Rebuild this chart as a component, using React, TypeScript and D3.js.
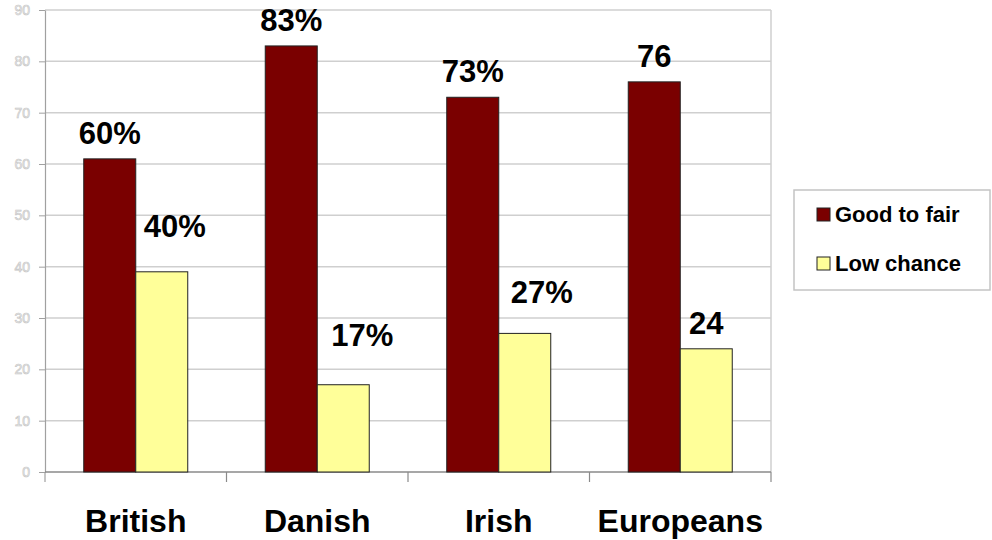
import { useEffect, useRef } from "react";
import * as d3 from "d3";

const categories = ["British", "Danish", "Irish", "Europeans"];
const goodToFair = [61, 83, 73, 76];
const lowChance = [39, 17, 27, 24];
const goodLabels = ["60%", "83%", "73%", "76"];
const lowLabels = ["40%", "17%", "27%", "24"];
const yTicks = [0, 10, 20, 30, 40, 50, 60, 70, 80, 90];
const seriesNames = ["Good to fair", "Low chance"];
const seriesColors = ["#7a0000", "#ffff99"];

// hand-placed label nudges for the low-chance labels (dx, extra lift in px)
const lowNudge: Array<[number, number]> = [
  [13, 20],
  [19, 24],
  [17, 15],
  [0, 0],
];

export default function App() {
  const ref = useRef<SVGSVGElement>(null);

  useEffect(() => {
    document.body.style.margin = "0";
    if (!ref.current) return;
    const svg = d3.select(ref.current);
    svg.selectAll("*").remove();

    const width = 992;
    const height = 540;
    const margin = { top: 10, right: 221, bottom: 68, left: 45 };
    const font = "Arial, 'Liberation Sans', Helvetica, sans-serif";

    const pad = 0.427;
    const x0 = d3
      .scaleBand()
      .domain(categories)
      .range([margin.left, width - margin.right])
      .paddingInner(pad)
      .paddingOuter(pad / 2);
    const x1 = d3
      .scaleBand()
      .domain(seriesNames)
      .range([0, x0.bandwidth()]);
    const y = d3
      .scaleLinear()
      .domain([0, 90])
      .range([height - margin.bottom, margin.top]);

    svg.append("rect").attr("width", width).attr("height", height).attr("fill", "#fff");

    // gridlines
    svg
      .append("g")
      .selectAll("line")
      .data(yTicks.filter((t) => t > 0))
      .join("line")
      .attr("x1", margin.left)
      .attr("x2", width - margin.right)
      .attr("y1", (d) => y(d))
      .attr("y2", (d) => y(d))
      .attr("stroke", "#cfcfcf")
      .attr("stroke-width", 1.5);

    // right border of plot
    svg
      .append("line")
      .attr("x1", width - margin.right)
      .attr("x2", width - margin.right)
      .attr("y1", y(90))
      .attr("y2", y(0))
      .attr("stroke", "#cfcfcf")
      .attr("stroke-width", 1.5);

    // y axis
    const yAxis = svg
      .append("g")
      .attr("transform", `translate(${margin.left},0)`)
      .call(d3.axisLeft(y).tickValues(yTicks).tickSize(6).tickSizeOuter(0));
    yAxis.select(".domain").attr("stroke", "#a0a0a0").attr("stroke-width", 1.2);
    yAxis.selectAll(".tick line").attr("stroke", "#a0a0a0");
    yAxis
      .selectAll(".tick text")
      .attr("x", -15)
      .attr("fill", "#f2f2f2")
      .attr("stroke", "#c4c4c4")
      .attr("stroke-width", 0.6)
      .attr("font-family", font)
      .attr("font-size", "14px");

    // extend left axis below zero
    svg
      .append("line")
      .attr("x1", margin.left)
      .attr("x2", margin.left)
      .attr("y1", y(0))
      .attr("y2", y(0) + 10)
      .attr("stroke", "#a0a0a0")
      .attr("stroke-width", 1.2);

    // x axis baseline
    svg
      .append("line")
      .attr("x1", margin.left)
      .attr("x2", width - margin.right)
      .attr("y1", y(0))
      .attr("y2", y(0))
      .attr("stroke", "#8a8a8a")
      .attr("stroke-width", 1.5);

    // category boundary ticks
    const step = x0.step();
    svg
      .append("g")
      .selectAll("line")
      .data(categories)
      .join("line")
      .attr("x1", (d, i) => margin.left + step * (i + 1))
      .attr("x2", (d, i) => margin.left + step * (i + 1))
      .attr("y1", y(0))
      .attr("y2", y(0) + 10)
      .attr("stroke", "#8a8a8a")
      .attr("stroke-width", 1.2);

    // bars
    const groups = svg
      .append("g")
      .selectAll("g")
      .data(categories)
      .join("g")
      .attr("transform", (d) => `translate(${x0(d)},0)`);

    groups
      .selectAll("rect")
      .data((d, i) => [goodToFair[i], lowChance[i]].map((v, j) => ({ v, s: seriesNames[j], j })))
      .join("rect")
      .attr("x", (d) => x1(d.s) ?? 0)
      .attr("y", (d) => y(d.v))
      .attr("width", x1.bandwidth())
      .attr("height", (d) => y(0) - y(d.v))
      .attr("fill", (d) => seriesColors[d.j])
      .attr("stroke", "#222")
      .attr("stroke-width", 1);

    // value labels
    const labelSize = 31;
    groups
      .append("text")
      .attr("x", (x1(seriesNames[0]) ?? 0) + x1.bandwidth() / 2)
      .attr("y", (d, i) => y(goodToFair[i]) - 15)
      .attr("text-anchor", "middle")
      .attr("font-family", font)
      .attr("font-weight", "bold")
      .attr("font-size", labelSize)
      .attr("fill", "#000")
      .text((d, i) => goodLabels[i]);

    groups
      .append("text")
      .attr("x", (d, i) => (x1(seriesNames[1]) ?? 0) + x1.bandwidth() / 2 + lowNudge[i][0])
      .attr("y", (d, i) => y(lowChance[i]) - 15 - lowNudge[i][1])
      .attr("text-anchor", "middle")
      .attr("font-family", font)
      .attr("font-weight", "bold")
      .attr("font-size", labelSize)
      .attr("fill", "#000")
      .text((d, i) => lowLabels[i]);

    // category labels
    svg
      .append("g")
      .selectAll("text")
      .data(categories)
      .join("text")
      .attr("x", (d) => (x0(d) ?? 0) + x0.bandwidth() / 2)
      .attr("y", 532)
      .attr("text-anchor", "middle")
      .attr("font-family", font)
      .attr("font-weight", "bold")
      .attr("font-size", 32)
      .attr("fill", "#000")
      .text((d) => d);

    // legend
    const legend = svg.append("g").attr("transform", "translate(794,190)");
    legend
      .append("rect")
      .attr("width", 196)
      .attr("height", 100)
      .attr("fill", "#fff")
      .attr("stroke", "#c4c4c4")
      .attr("stroke-width", 1.5);
    const items = legend
      .selectAll("g")
      .data(seriesNames)
      .join("g")
      .attr("transform", (d, i) => `translate(23,${18 + i * 49})`);
    items
      .append("rect")
      .attr("width", 13)
      .attr("height", 13)
      .attr("fill", (d, i) => seriesColors[i])
      .attr("stroke", "#222")
      .attr("stroke-width", 1);
    items
      .append("text")
      .attr("x", 18)
      .attr("y", 14)
      .attr("font-family", font)
      .attr("font-weight", "bold")
      .attr("font-size", 22)
      .attr("fill", "#000")
      .text((d) => d);
  }, []);

  return <svg ref={ref} width={992} height={540} style={{ display: "block" }} />;
}
